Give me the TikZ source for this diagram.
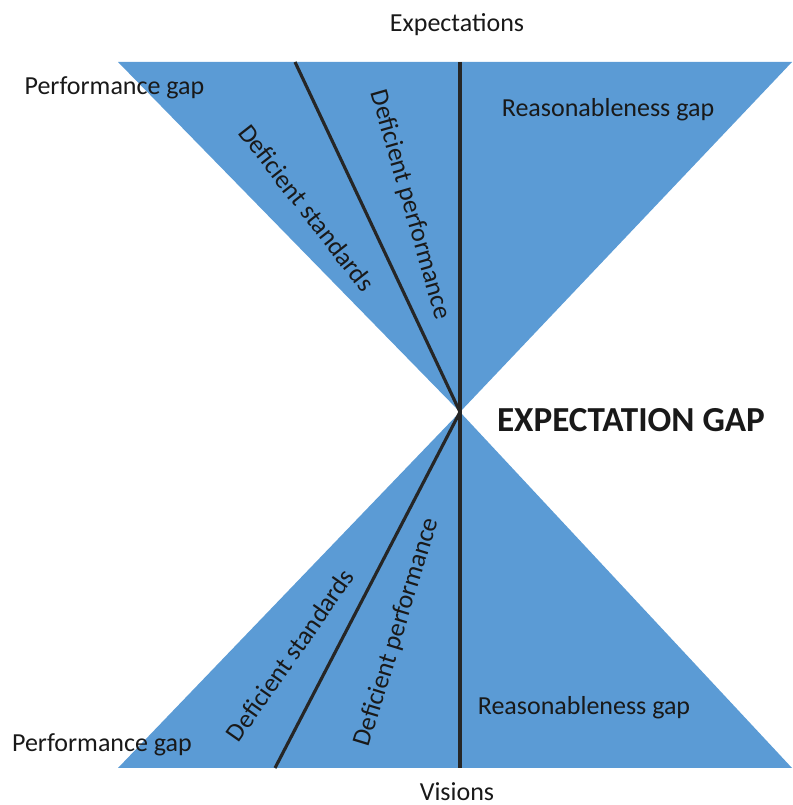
\documentclass[tikz,border=0pt]{standalone}
\usepackage{fontspec}
\setmainfont{Carlito}
\definecolor{gapblue}{RGB}{91,155,213}
\definecolor{gapline}{RGB}{38,38,38}
\definecolor{gaptext}{RGB}{25,25,25}
\begin{document}
\begin{tikzpicture}
    \tikzstyle{every node}=[text=gaptext,font=\fontsize{14.8}{18}\selectfont,inner sep=1pt]
    \tikzstyle{divider}=[draw=gapline,line width=1.8pt]
    \useasboundingbox (0,0) rectangle (15.84,16.1);
    % corners of the two triangles
    \coordinate (apex) at (9.2,7.86);
    \coordinate (tl) at (2.36,14.86);
    \coordinate (tr) at (15.84,14.86);
    \coordinate (bl) at (2.36,0.74);
    \coordinate (br) at (15.84,0.74);
    \coordinate (top) at (9.2,14.86);
    \coordinate (bot) at (9.2,0.74);
    \coordinate (topdiag) at (5.9,14.86);
    \coordinate (botdiag) at (5.5,0.74);
    \fill[gapblue] (tl) -- (tr) -- (apex) -- cycle;
    \fill[gapblue] (bl) -- (br) -- (apex) -- cycle;
    \draw[divider] (top) -- (bot);
    \draw[divider] (topdiag) -- (apex) -- (botdiag);
    % labels
    \node (expect) at (9.14,15.6) {Expectations};
    \node (vision) at (9.14,0.27) {Visions};
    \node[anchor=west] (perftop) at (0.45,14.34) {Performance gap};
    \node[anchor=west] (perfbot) at (0.2,1.2) {Performance gap};
    \node (reastop) at (12.16,13.9) {Reasonableness gap};
    \node (reasbot) at (11.68,1.94) {Reasonableness gap};
    \node[rotate=-52] (stdtop) at (6.14,11.94) {Deficient standards};
    \node[rotate=-74] (pftop) at (8.2,12.0) {Deficient performance};
    \node[rotate=55] (stdbot) at (5.8,3.0) {Deficient standards};
    \node[rotate=73] (pfbot) at (7.94,3.46) {Deficient performance};
    \node[font=\fontsize{20}{24}\selectfont\bfseries] (gap) at (12.62,7.7) {EXPECTATION GAP};
\end{tikzpicture}
\end{document}
